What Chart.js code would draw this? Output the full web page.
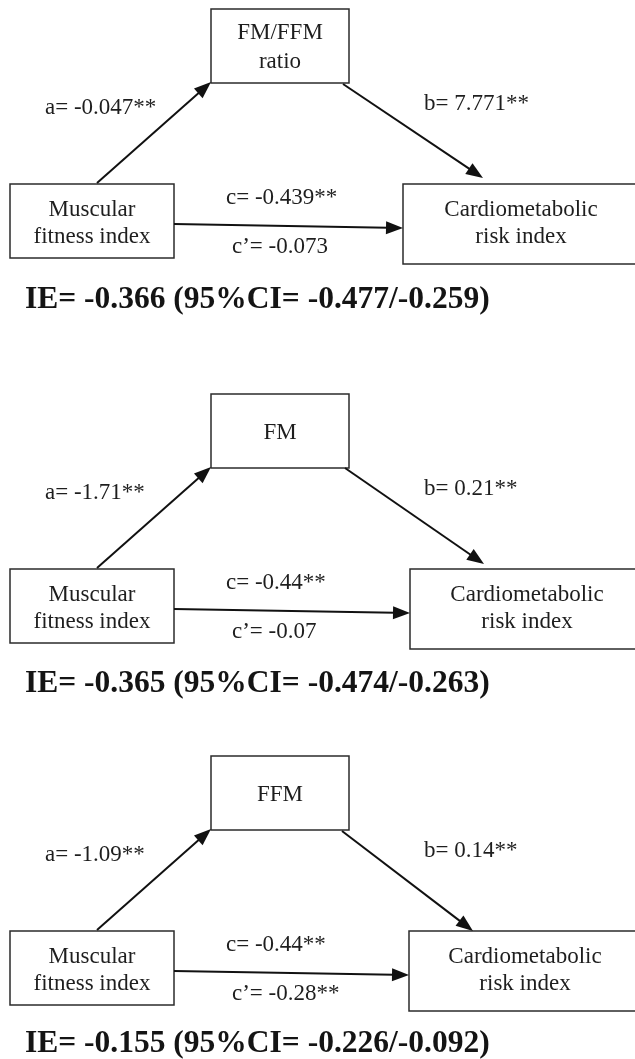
<!DOCTYPE html>
<html>
<head>
<meta charset="utf-8">
<script src="https://cdn.jsdelivr.net/npm/chart.js@4"></script>
<style>
    html, body { margin: 0; padding: 0; background: #fff; }
    #wrap { width: 635px; height: 1059px; }
</style>
</head>
<body>
<div id="wrap"><canvas id="diagram" width="635" height="1059"></canvas></div>
<script>
// Diagram content (one entry per panel)
const predictorLines = ['Muscular', 'fitness index'];
const outcomeLines = ['Cardiometabolic', 'risk index'];
const mediatorLines = [['FM/FFM', 'ratio'], ['FM'], ['FFM']];
const pathA = ['-0.047**', '-1.71**', '-1.09**'];
const pathB = ['7.771**', '0.21**', '0.14**'];
const pathC = ['-0.439**', '-0.44**', '-0.44**'];
const pathCPrime = ['-0.073', '-0.07', '-0.28**'];
const indirectEffect = ['-0.366', '-0.365', '-0.155'];
const ciLower = ['-0.477', '-0.474', '-0.226'];
const ciUpper = ['-0.259', '-0.263', '-0.092'];

// Layout, in page units (x 0-635, y 0-1059), relative to each panel top
const panelTop = [0, 385, 747];
const mediatorBox = { x0: 211, x1: 349, y0: 9, y1: 83 };
const predictorBox = { x0: 10, x1: 174, y0: 184, y1: 258 };
const outcomeLeft = [403, 410, 409];
const outcomeTextX = [521, 527, 525];
const outcomeBox = { y0: 184, y1: 264 };
const arrowA = { from: [97, 183], to: [211, 82] };
const arrowBFrom = [[343, 84], [345, 83], [342, 84]];
const arrowBTo = [[483, 178], [484, 179], [473, 184]];
const arrowC = { from: [174, 224], to: [403, 228] };
const ieBaseline = [308, 307, 305];

const regular = '23px "Liberation Serif", "Times New Roman", serif';
const bold = 'bold 31.5px "Liberation Serif", "Times New Roman", serif';

const diagramPlugin = {
    id: 'mediationDiagram',
    afterDraw(chart) {
        const ctx = chart.ctx;
        const xs = chart.scales.x;
        const ys = chart.scales.y;

        panelTop.forEach((top, i) => {
            const px = v => xs.getPixelForValue(v);
            const py = v => ys.getPixelForValue(v + top);

            // boxes
            ctx.save();
            ctx.strokeStyle = '#2b2b2b';
            ctx.lineWidth = 1.5;
            const box = (x0, x1, y0, y1) => {
                ctx.strokeRect(px(x0), py(y0), px(x1) - px(x0), py(y1) - py(y0));
            };
            box(mediatorBox.x0, mediatorBox.x1, mediatorBox.y0, mediatorBox.y1);
            box(predictorBox.x0, predictorBox.x1, predictorBox.y0, predictorBox.y1);
            box(outcomeLeft[i], 645, outcomeBox.y0, outcomeBox.y1);
            ctx.restore();

            // arrows
            drawArrow(ctx, px(arrowA.from[0]), py(arrowA.from[1]), px(arrowA.to[0]), py(arrowA.to[1]));
            drawArrow(ctx, px(arrowBFrom[i][0]), py(arrowBFrom[i][1]), px(arrowBTo[i][0]), py(arrowBTo[i][1]));
            drawArrow(ctx, px(arrowC.from[0]), py(arrowC.from[1]), px(outcomeLeft[i]), py(arrowC.to[1]));

            // box texts
            ctx.save();
            ctx.fillStyle = '#1e1e1e';
            ctx.font = regular;
            ctx.textAlign = 'center';
            ctx.textBaseline = 'middle';
            const med = mediatorLines[i];
            if (med.length === 2) {
                ctx.fillText(med[0], px(280), py(33));
                ctx.fillText(med[1], px(280), py(62));
            } else {
                ctx.fillText(med[0], px(280), py(48));
            }
            ctx.fillText(predictorLines[0], px(92), py(210));
            ctx.fillText(predictorLines[1], px(92), py(237));
            ctx.fillText(outcomeLines[0], px(outcomeTextX[i]), py(210));
            ctx.fillText(outcomeLines[1], px(outcomeTextX[i]), py(237));

            // path labels
            ctx.textAlign = 'left';
            ctx.fillText('a= ' + pathA[i], px(45), py(108));
            ctx.fillText('b= ' + pathB[i], px(424), py(104));
            ctx.fillText('c= ' + pathC[i], px(226), py(198));
            ctx.fillText('c\u2019= ' + pathCPrime[i], px(232), py(247));

            // indirect effect line
            ctx.font = bold;
            ctx.textBaseline = 'alphabetic';
            ctx.fillStyle = '#141414';
            ctx.fillText('IE= ' + indirectEffect[i] + ' (95%CI= ' + ciLower[i] + '/' + ciUpper[i] + ')', px(25), py(ieBaseline[i]));
            ctx.restore();
        });
    }
};

// Shaft plus filled head, tip at (x1, y1)
function drawArrow(ctx, x0, y0, x1, y1) {
    const head = 17, half = 6.5;
    const len = Math.hypot(x1 - x0, y1 - y0);
    const ux = (x1 - x0) / len, uy = (y1 - y0) / len;
    const bx = x1 - ux * head, by = y1 - uy * head;
    ctx.save();
    ctx.strokeStyle = '#111';
    ctx.fillStyle = '#111';
    ctx.lineWidth = 2;
    ctx.beginPath();
    ctx.moveTo(x0, y0);
    ctx.lineTo(bx + ux * 2, by + uy * 2);
    ctx.stroke();
    ctx.beginPath();
    ctx.moveTo(x1, y1);
    ctx.lineTo(bx - uy * half, by + ux * half);
    ctx.lineTo(bx + uy * half, by - ux * half);
    ctx.closePath();
    ctx.fill();
    ctx.restore();
}

new Chart(document.getElementById('diagram'), {
    type: 'scatter',
    data: { datasets: [{ data: [], pointRadius: 0 }] },
    options: {
        responsive: false,
        animation: false,
        layout: { padding: 0 },
        plugins: { legend: { display: false }, tooltip: { enabled: false } },
        scales: {
            x: { type: 'linear', min: 0, max: 635, display: false },
            y: { type: 'linear', min: 0, max: 1059, reverse: true, display: false }
        }
    },
    plugins: [diagramPlugin]
});
</script>
</body>
</html>
